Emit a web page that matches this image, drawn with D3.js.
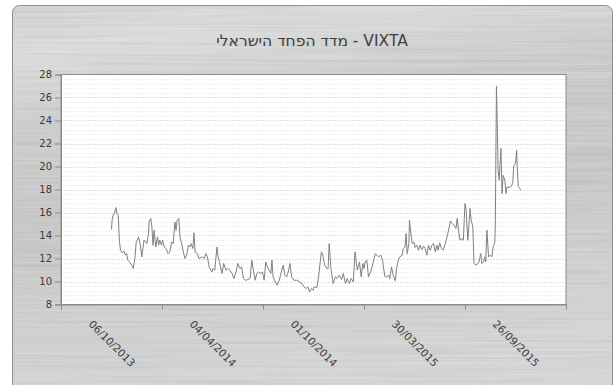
<!DOCTYPE html>
<html><head><meta charset="utf-8">
<script src="https://cdn.jsdelivr.net/npm/d3@7"></script>
<style>
html,body{margin:0;padding:0;background:#fff;}
svg{display:block;}
text{font-family:"DejaVu Sans",sans-serif;}
</style></head>
<body>
<svg id="chart" width="614" height="385"></svg>
<script>
// ---- data ----
const title = "VIXTA - מדד הפחד הישראלי";
const startDate = "2013-10-06"; // day 0 of the series
const xTickLabels = ["06/10/2013","04/04/2014","01/10/2014","30/03/2015","26/09/2015"];
const yTicks = [8,10,12,14,16,18,20,22,24,26,28];
const days = [0,1,3,5,8,10,12,14,16,19,22,25,27,29,32,36,39,42,44,46,48,51,54,56,58,61,63,66,67,70,72,74,76,79,82,84,86,89,91,94,97,101,104,107,110,113,115,117,120,122,125,128,131,134,137,140,142,145,147,149,153,156,161,165,168,171,174,179,181,184,188,190,193,197,200,204,207,211,215,218,222,225,229,232,235,239,243,247,250,253,256,259,262,266,269,272,275,278,281,284,286,288,292,295,299,302,306,309,312,315,318,321,325,330,335,339,343,347,350,353,356,359,361,366,369,372,374,376,380,384,386,388,391,395,399,402,406,410,413,417,420,424,427,431,434,438,442,445,448,450,452,455,458,462,466,470,473,476,480,483,487,490,494,496,499,502,506,508,511,514,518,520,523,525,527,530,531,534,536,539,541,544,547,550,553,556,559,562,565,568,571,574,577,580,582,585,588,591,595,598,602,604,607,610,614,616,619,621,625,627,630,632,635,637,639,641,644,646,649,653,655,658,660,663,665,667,669,672,675,678,680,683,684,686,688,689,691,694,696,698,701,703,705,709,712,715,717,720,722,723,725,728,729];
const values = [14.52,15.33,15.77,15.9,16.43,15.85,15.77,13.6,12.72,12.49,12.66,12.29,12.43,11.85,11.7,11.42,11.13,12.14,13.44,13.59,13.88,13.3,12.14,12.87,13.59,13.44,13.3,14.17,15.18,15.48,14.75,13.16,14.46,13.0,13.88,13.16,13.59,13.16,13.59,13.0,12.87,12.43,12.58,13.44,13.3,15.18,14.46,15.33,15.48,13.88,13.3,12.58,12.0,12.29,13.16,13.0,13.3,12.87,14.23,12.58,12.43,12.0,12.14,12.0,12.43,12.14,11.27,10.83,11.13,10.98,13.0,12.14,11.57,10.7,11.57,10.98,11.13,10.98,10.7,10.26,10.83,11.57,11.13,11.27,10.26,10.11,10.17,10.26,11.85,10.98,10.11,10.7,10.83,10.7,10.83,10.11,11.7,11.27,10.98,10.7,11.85,10.4,9.97,9.68,10.11,10.7,11.42,10.55,10.4,10.83,11.57,10.4,10.11,10.11,9.97,9.83,9.53,9.39,9.53,9.1,9.39,9.24,9.53,9.48,10.4,11.7,12.58,12.43,11.42,11.13,11.13,13.3,11.13,9.83,10.4,10.26,10.55,10.17,10.7,9.83,10.26,9.83,10.26,9.97,12.58,10.98,11.7,10.4,11.57,11.13,11.7,11.85,10.4,10.83,11.57,12.43,12.29,12.14,12.29,11.85,10.46,10.4,10.55,10.26,11.27,10.55,10.06,11.13,11.85,12.14,12.29,12.87,13.0,14.17,12.43,13.3,15.33,14.03,13.3,13.44,12.96,13.16,12.72,13.16,12.78,13.07,12.87,12.29,13.16,12.72,13.16,13.3,12.58,13.16,12.72,13.36,12.87,12.72,13.3,13.88,14.75,15.27,15.04,14.9,14.61,15.48,14.32,13.59,13.74,13.59,16.78,16.2,13.59,14.9,16.35,15.33,14.75,11.57,11.42,11.57,11.7,12.43,11.57,11.7,12.14,11.7,14.46,12.14,12.29,12.14,13.0,13.3,14.8,26.98,22.57,19.68,18.81,21.57,17.65,19.24,18.81,17.65,18.23,18.17,18.23,18.52,20.11,20.26,21.42,19.97,18.23,18.09,17.94];

// ---- layout ----
const plot = {left:61, right:566, top:74.5, bottom:304.5};
const svg = d3.select("#chart");
const parse = d3.utcParse("%Y-%m-%d");
const fmtIn = d3.utcParse("%d/%m/%Y");
const day0 = parse(startDate);
const labelDates = xTickLabels.map(s => fmtIn(s));
const step = 180;
const domStart = d3.utcDay.offset(labelDates[0], -step/2);
const domEnd = d3.utcDay.offset(labelDates[labelDates.length-1], step/2);

const x = d3.scaleUtc().domain([domStart, domEnd]).range([plot.left, plot.right]);
const y = d3.scaleLinear().domain([8, 28]).range([plot.bottom, plot.top]);

const data = days.map((d,i) => ({date: d3.utcDay.offset(day0, d), v: values[i]}));

// ---- defs: brushed metal ----
const defs = svg.append("defs");
const grad = defs.append("linearGradient").attr("id","metal").attr("x1","0").attr("y1","0").attr("x2","0.2").attr("y2","1");
[["0%","#d0d0d0"],["12%","#dadada"],["30%","#cbcbcb"],["55%","#c6c6c6"],["80%","#cecece"],["100%","#d4d4d4"]]
  .forEach(([o,c]) => grad.append("stop").attr("offset",o).attr("stop-color",c));
const filt = defs.append("filter").attr("id","brush").attr("x","0").attr("y","0").attr("width","1").attr("height","1");
filt.append("feTurbulence").attr("type","fractalNoise").attr("baseFrequency","0.004 0.45").attr("numOctaves",2).attr("seed",3).attr("result","n");
filt.append("feColorMatrix").attr("in","n").attr("type","matrix")
  .attr("values","0 0 0 0 1  0 0 0 0 1  0 0 0 0 1  0.9 0 0 0 -0.35").attr("result","w");
filt.append("feComposite").attr("in","w").attr("in2","SourceGraphic").attr("operator","in");
const filt2 = defs.append("filter").attr("id","brush2").attr("x","0").attr("y","0").attr("width","1").attr("height","1");
filt2.append("feTurbulence").attr("type","fractalNoise").attr("baseFrequency","0.006 0.35").attr("numOctaves",2).attr("seed",11).attr("result","n");
filt2.append("feColorMatrix").attr("in","n").attr("type","matrix")
  .attr("values","0 0 0 0 0  0 0 0 0 0  0 0 0 0 0  0.8 0 0 0 -0.38").attr("result","k");
filt2.append("feComposite").attr("in","k").attr("in2","SourceGraphic").attr("operator","in");

// panel
const panel = {x:12.5, y:5.5, w:600, h:400, r:7};
svg.append("rect").attr("x",panel.x).attr("y",panel.y).attr("width",panel.w).attr("height",panel.h).attr("rx",panel.r)
  .attr("fill","url(#metal)");
svg.append("rect").attr("x",panel.x).attr("y",panel.y).attr("width",panel.w).attr("height",panel.h).attr("rx",panel.r)
  .attr("fill","#fff").attr("filter","url(#brush)").attr("opacity",0.45);
svg.append("rect").attr("x",panel.x).attr("y",panel.y).attr("width",panel.w).attr("height",panel.h).attr("rx",panel.r)
  .attr("fill","#000").attr("filter","url(#brush2)").attr("opacity",0.14);
svg.append("rect").attr("x",panel.x).attr("y",panel.y).attr("width",panel.w).attr("height",panel.h).attr("rx",panel.r)
  .attr("fill","none").attr("stroke","#8e8e8e").attr("stroke-width",1);

// title
svg.append("text").attr("x",312).attr("y",46).attr("text-anchor","middle").attr("direction","rtl")
  .attr("font-size",15.5).attr("fill","#404040").text(title);

// plot area
svg.append("rect").attr("x",plot.left).attr("y",plot.top).attr("width",plot.right-plot.left).attr("height",plot.bottom-plot.top)
  .attr("fill","#fff");

// minor grid
const minor = d3.range(8.4, 28, 0.4).filter(v => Math.abs(v/2 - Math.round(v/2)) > 0.01);
svg.append("g").selectAll("line").data(minor).join("line")
  .attr("x1",plot.left).attr("x2",plot.right).attr("y1",d=>Math.round(y(d))+0.5).attr("y2",d=>Math.round(y(d))+0.5)
  .attr("stroke","#f0f0f0").attr("stroke-dasharray","2,1");
// major grid
svg.append("g").selectAll("line").data(yTicks.slice(1,-1)).join("line")
  .attr("x1",plot.left).attr("x2",plot.right).attr("y1",d=>Math.round(y(d))+0.5).attr("y2",d=>Math.round(y(d))+0.5)
  .attr("stroke","#e0e0e0").attr("stroke-dasharray","2,1");

// border
svg.append("rect").attr("x",plot.left).attr("y",plot.top).attr("width",plot.right-plot.left).attr("height",plot.bottom-plot.top)
  .attr("fill","none").attr("stroke","#8a8a8a").attr("stroke-width",1);

// line
const line = d3.line().x(d=>x(d.date)).y(d=>y(d.v));
svg.append("path").datum(data).attr("d",line).attr("fill","none").attr("stroke","#808080").attr("stroke-width",1)
  .attr("stroke-linejoin","round");

// y axis
const yAxis = svg.append("g").attr("transform",`translate(${plot.left},0)`)
  .call(d3.axisLeft(y).tickValues(yTicks).tickSize(6).tickPadding(3).tickFormat(d3.format("d")));
yAxis.select(".domain").attr("stroke","#8a8a8a");
yAxis.selectAll(".tick line").attr("stroke","#8a8a8a");
yAxis.selectAll(".tick text").attr("font-size",10).attr("fill","#3a3a3a").attr("font-family","DejaVu Sans");

// x axis tick marks
const tickDates = d3.range(labelDates.length+1).map(i => d3.utcDay.offset(domStart, i*step));
const xAxis = svg.append("g").attr("transform",`translate(0,${plot.bottom})`)
  .call(d3.axisBottom(x).tickValues(tickDates).tickSize(5).tickFormat(""));
xAxis.select(".domain").attr("stroke","#8a8a8a");
xAxis.selectAll(".tick line").attr("stroke","#8a8a8a");

// x labels
const xLab = svg.append("g").attr("transform",`translate(0,${plot.bottom})`)
  .call(d3.axisBottom(x).tickValues(labelDates).tickSize(0).tickFormat(d3.utcFormat("%d/%m/%Y")));
xLab.select(".domain").remove();
xLab.selectAll(".tick text").attr("font-size",10.5).attr("fill","#3a3a3a").attr("font-family","DejaVu Sans")
  .attr("y",0).attr("dy","0.35em").attr("text-anchor","middle").attr("transform","translate(0,39) rotate(45)");
</script>
</body></html>
